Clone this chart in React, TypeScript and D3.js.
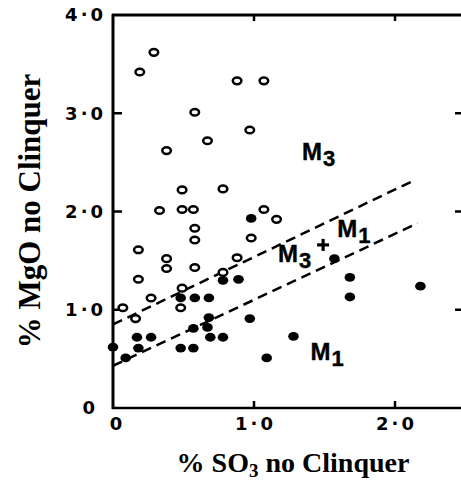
import * as d3 from 'd3'

const W = 461
const H = 483

// open circles (above / between the lines)
const openX = [0.29, 0.19, 0.88, 1.07, 0.58, 0.97, 0.67, 0.38, 0.49, 0.78, 0.33, 0.49, 0.57, 1.07, 1.16, 0.58, 0.58, 0.98, 0.18, 0.38, 0.38, 0.58, 0.88, 0.18, 0.49, 0.78, 0.27, 0.07, 0.48, 0.16]
const openY = [3.62, 3.42, 3.33, 3.33, 3.01, 2.83, 2.72, 2.62, 2.22, 2.23, 2.01, 2.02, 2.02, 2.02, 1.92, 1.83, 1.71, 1.73, 1.61, 1.52, 1.42, 1.43, 1.53, 1.31, 1.22, 1.38, 1.12, 1.02, 1.02, 0.91]

// filled dots
const fillX = [0, 0.09, 0.17, 0.27, 0.18, 0.48, 0.57, 0.69, 0.78, 0.57, 0.67, 0.68, 0.97, 0.48, 0.58, 0.68, 0.78, 0.89, 0.98, 1.09, 1.28, 1.57, 1.68, 1.68, 2.18]
const fillY = [0.62, 0.51, 0.72, 0.72, 0.61, 0.61, 0.61, 0.72, 0.72, 0.81, 0.82, 0.92, 0.91, 1.12, 1.12, 1.12, 1.30, 1.31, 1.93, 0.51, 0.73, 1.52, 1.33, 1.13, 1.24]

// single cross
const crossPt = [1.49, 1.66]

// dividing lines
const upperLine = [[0, 0.85], [2.14, 2.32]]
const lowerLine = [[0, 0.43], [2.16, 1.88]]

const xTicks = [0, 1, 2]
const yTicks = [0, 1, 2, 3, 4]
const fmt = (v: number) => (v === 0 ? '0' : v.toFixed(1).replace('.', '·'))

const zoneLabels = [
  { m: 'M', s: '3', x: 1.34, y: 2.52 },
  { m: 'M', s: '1', x: 1.59, y: 1.74 },
  { m: 'M', s: '3', x: 1.17, y: 1.49 },
  { m: 'M', s: '1', x: 1.40, y: 0.49 },
]

export default function App() {
  const x = d3.scaleLinear().domain([0, 2.475]).range([113, 462])
  const y = d3.scaleLinear().domain([0, 4]).range([408, 15])
  const line = d3.line<number[]>().x(d => x(d[0])).y(d => y(d[1]))

  const tickFont = { fontFamily: 'DejaVu Sans', fontWeight: 700, fontSize: 18 } as const

  return (
    <svg width={W} height={H} style={{ position: 'absolute', left: 0, top: 0, background: '#fff' }}>
      {/* frame */}
      <line x1={x(0)} x2={x(0)} y1={y(4) - 1} y2={y(0) + 1} stroke="#000" strokeWidth={3} />
      <line x1={x(0) - 1} x2={W} y1={y(4)} y2={y(4)} stroke="#000" strokeWidth={3} />
      <line x1={x(0) - 1} x2={W} y1={y(0)} y2={y(0)} stroke="#000" strokeWidth={2.5} />

      {/* ticks */}
      {yTicks.filter(t => t > 0 && t < 4).map(t => (
        <g key={'yt' + t}>
          <line x1={x(0)} x2={x(0) + 9} y1={y(t)} y2={y(t)} stroke="#000" strokeWidth={2.5} />
          <line x1={462} x2={455} y1={y(t)} y2={y(t)} stroke="#000" strokeWidth={2.5} />
        </g>
      ))}
      {xTicks.filter(t => t > 0).map(t => (
        <g key={'xt' + t}>
          <line x1={x(t)} x2={x(t)} y1={y(0)} y2={y(0) - 7} stroke="#000" strokeWidth={2.5} />
          <line x1={x(t)} x2={x(t)} y1={y(4)} y2={y(4) + 6} stroke="#000" strokeWidth={2.5} />
        </g>
      ))}

      {/* tick labels */}
      {yTicks.map(t => (
        <text key={'yl' + t} x={t === 0 ? 95 : 106} y={y(t)} dy="0.36em" textAnchor="end"
          letterSpacing={t === 0 ? 0 : 3} {...tickFont}>{fmt(t)}</text>
      ))}
      {xTicks.map(t => (
        <text key={'xl' + t} x={x(t) + (t === 0 ? 3 : 1.5)} y={424} dy="0.36em" textAnchor="middle"
          letterSpacing={t === 0 ? 0 : 3} {...tickFont}>{fmt(t)}</text>
      ))}

      {/* dividing lines */}
      <path d={line(upperLine) || ''} fill="none" stroke="#000" strokeWidth={2.5} strokeDasharray="10,6" />
      <path d={line(lowerLine) || ''} fill="none" stroke="#000" strokeWidth={2.5} strokeDasharray="10,6" />

      {/* points */}
      {openX.map((v, i) => (
        <ellipse key={'o' + i} cx={x(v)} cy={y(openY[i])} rx={4.3} ry={3.3} fill="#fff" stroke="#000" strokeWidth={2.5} />
      ))}
      {fillX.map((v, i) => (
        <ellipse key={'f' + i} cx={x(v)} cy={y(fillY[i])} rx={5.3} ry={4.4} fill="#000" />
      ))}
      <g transform={`translate(${x(crossPt[0])},${y(crossPt[1])})`} stroke="#000" strokeWidth={3.2}>
        <line x1={-6} x2={6} y1={0} y2={0} />
        <line x1={0} x2={0} y1={-6} y2={6} />
      </g>

      {/* zone labels */}
      {zoneLabels.map((l, i) => (
        <text key={'z' + i} x={x(l.x)} y={y(l.y)} fontFamily="Liberation Sans" fontWeight={700} fontSize={24}
          stroke="#000" strokeWidth={0.4}>
          {l.m}
          <tspan dx={1} dy={6} fontSize={22}>{l.s}</tspan>
        </text>
      ))}

      {/* axis titles */}
      <text x={293} y={472} textAnchor="middle" fontFamily="Liberation Serif" fontWeight={700} fontSize={28}>
        % SO<tspan fontSize={19} dy={5}>3</tspan><tspan dy={-5}> no Clinquer</tspan>
      </text>
      <text transform="translate(40,211) rotate(-90)" textAnchor="middle" fontFamily="Liberation Serif" fontWeight={700} fontSize={31}>
        % MgO no Clinquer
      </text>
    </svg>
  )
}
